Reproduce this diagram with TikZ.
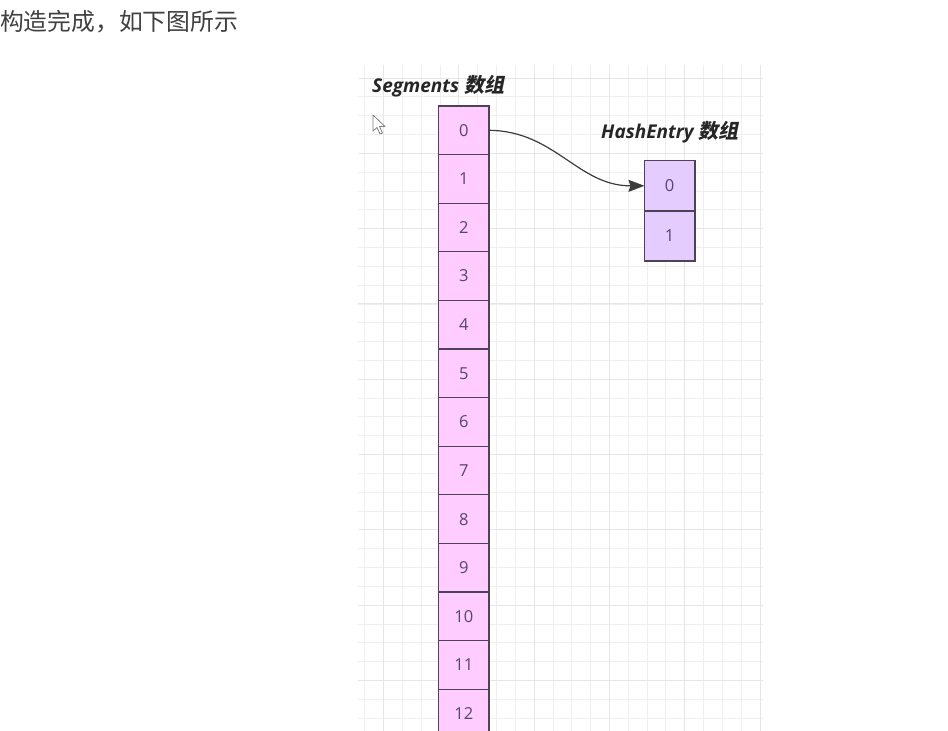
\documentclass[tikz,border=0pt]{standalone}
\usepackage{fontspec}
\setmainfont{Open Sans}
\newfontfamily\cjk{Noto Sans CJK SC}
\newfontfamily\cjkti[FakeSlant=0.2]{Noto Sans CJK SC}
\usetikzlibrary{arrows.meta,positioning}
\definecolor{segfill}{HTML}{FFCCFF}
\definecolor{hefill}{HTML}{E5CCFF}
\definecolor{cellline}{HTML}{4E4257}
\definecolor{cellnum}{HTML}{55456F}
\definecolor{gridminor}{HTML}{EFEFEF}
\definecolor{gridmajor}{HTML}{E6E6E6}
\definecolor{arrowgray}{HTML}{3C3C3C}
\tikzset{
  segcell/.style={draw=cellline, fill=segfill, line width=1.3pt, outer sep=0pt, inner sep=0pt,
    minimum width=50.5pt, minimum height=48.6pt, text=cellnum, font=\fontsize{16.5}{16.5}\selectfont},
  hecell/.style={segcell, fill=hefill, minimum height=50.2pt},
  arraytitle/.style={anchor=base west, inner sep=0pt, text=black!85, font=\fontsize{19}{19}\selectfont\bfseries\itshape},
  fineline/.style={gridminor, line width=0.8pt},
  boldline/.style={gridmajor, line width=1pt},
}
\begin{document}
\begin{tikzpicture}[x=1pt,y=-1pt]
    \useasboundingbox[fill=white] (0,0) rectangle (948,731);
    \clip (0,0) rectangle (948,731);
    \node[anchor=west, inner sep=0pt, text=black!75, font=\cjk\fontsize{23.8}{24}\selectfont] (caption) at (0,22) {构造完成，如下图所示};
    \foreach \k in {-1,...,20} {
        \pgfmathsetmacro\gx{383.5+18.825*\k}
        \draw[fineline] (\gx,65) -- (\gx,731);
    }
    \foreach \k in {0,...,34} {
        \pgfmathsetmacro\gy{78+18.825*\k}
        \draw[fineline] (358,\gy) -- (763,\gy);
    }
    \foreach \k in {0,...,5} {
        \pgfmathsetmacro\gx{383.5+75.3*\k}
        \draw[boldline] (\gx,65) -- (\gx,731);
    }
    \foreach \k in {0,...,8} {
        \pgfmathsetmacro\gy{78+75.3*\k}
        \draw[boldline] (358,\gy) -- (763,\gy);
    }
    \node[arraytitle] (segtitle) at (372,92) {Segments {\cjkti\fontsize{20}{20}\selectfont 数组}};
    \node[arraytitle] (hetitle) at (601,138) {HashEntry {\cjkti\fontsize{20}{20}\selectfont 数组}};
    \foreach \k in {0,...,12} {
        \node[segcell] (seg\k) at (463.8,130.3+48.6*\k) {\k};
    }
    \node[hecell] (he0) at (669.7,185.8) {0};
    \node[hecell, below=0pt of he0] (he1) {1};
    \draw[arrowgray, line width=1.2pt, -{Stealth[length=16pt,width=12pt,inset=2pt]}]
        (seg0.east) .. controls (555,131) and (578,186) .. (he0.west);
    \draw[gray, fill=white, line width=0.8pt, line join=round]
        (373,115) -- (373,131) -- (377,127.5) -- (380,134) -- (382.5,133) -- (379.5,126.5) -- (385,126.5) -- cycle;
\end{tikzpicture}
\end{document}
